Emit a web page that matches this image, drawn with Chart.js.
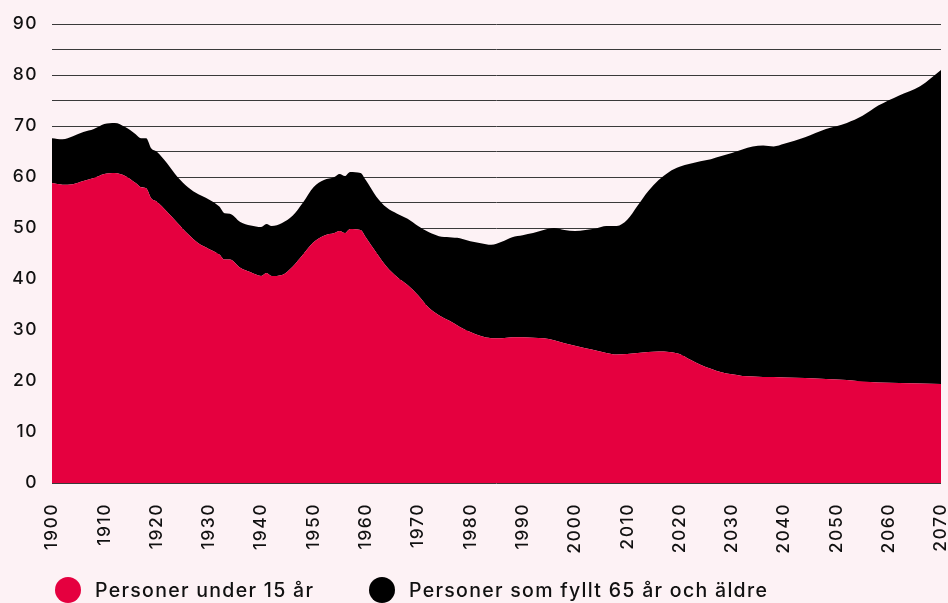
<!DOCTYPE html>
<html lang="sv">
<head>
<meta charset="utf-8">
<script src="https://cdn.jsdelivr.net/npm/chart.js@4/dist/chart.umd.min.js"></script>
<style>
  html, body { margin: 0; padding: 0; background: #fdf2f5; }
  .wrap { position: relative; width: 948px; height: 603px; overflow: hidden; }
  canvas { position: absolute; left: 0; top: 0; }
  .legend { position: absolute; top: 577px; left: 0; font-family: Inter, "Noto Sans", sans-serif; font-size: 19.5px; font-weight: 500; letter-spacing: 1.3px; color: #111; }
  .legend span.item { position: absolute; white-space: nowrap; line-height: 26px; }
  .legend i { position: absolute; top: 0; width: 26px; height: 26px; border-radius: 50%; }
</style>
</head>
<body>
<div class="wrap">
  <canvas id="popChart" width="948" height="603"></canvas>
  <div class="legend" id="legend"></div>
</div>
<script>
// Befolkning per åldersgrupp, procent av befolkningen 15-64 år (avläst)

const years = [1900, 1902, 1904, 1906, 1908, 1910, 1912, 1914, 1916, 1917, 1918, 1919, 1920,
  1922, 1924, 1926, 1928, 1930, 1932, 1933, 1934, 1936, 1938, 1940, 1941, 1942, 1944, 1946,
  1948, 1950, 1952, 1954, 1955, 1956, 1957, 1959, 1960, 1962, 1964, 1966, 1968, 1970, 1972,
  1974, 1976, 1978, 1980, 1982, 1984, 1986, 1988, 1990, 1992, 1994, 1996, 1998, 2000, 2002,
  2004, 2006, 2008, 2010, 2012, 2014, 2016, 2018, 2020, 2022, 2024, 2026, 2028, 2030, 2032,
  2034, 2036, 2038, 2040, 2044, 2048, 2052, 2055, 2058, 2062, 2066, 2070];

const under15 = [58.8, 58.5, 58.6, 59.2, 59.8, 60.6, 60.8, 60.2, 58.8, 58.0, 57.8, 55.8, 55.2,
  53.2, 51.0, 48.8, 47.0, 45.9, 44.8, 43.8, 43.8, 42.2, 41.3, 40.6, 41.2, 40.6, 40.8, 42.4,
  44.8, 47.2, 48.5, 49.0, 49.4, 49.0, 49.8, 49.6, 48.2, 45.2, 42.4, 40.4, 38.8, 36.8, 34.4,
  32.9, 31.8, 30.6, 29.6, 28.8, 28.4, 28.4, 28.6, 28.6, 28.5, 28.4, 28.0, 27.4, 26.9, 26.4,
  26.0, 25.5, 25.2, 25.3, 25.5, 25.7, 25.8, 25.7, 25.3, 24.2, 23.2, 22.4, 21.7, 21.3, 21.0,
  20.9, 20.8, 20.8, 20.7, 20.6, 20.4, 20.2, 19.9, 19.7, 19.6, 19.5, 19.4];

const over65 = [8.8, 8.9, 9.4, 9.6, 9.6, 9.8, 9.8, 9.6, 9.6, 9.6, 9.8, 9.8, 9.8,
  9.5, 9.0, 9.2, 9.6, 9.7, 9.4, 9.1, 9.0, 9.0, 9.2, 9.6, 9.6, 9.8, 10.2, 10.0,
  10.2, 10.8, 10.9, 11.0, 11.2, 11.2, 11.2, 11.2, 11.2, 11.0, 11.6, 12.4, 13.0, 13.6, 14.8,
  15.5, 16.4, 17.4, 17.8, 18.2, 18.3, 18.9, 19.6, 20.0, 20.5, 21.2, 22.0, 22.2, 22.5, 23.2,
  23.9, 24.9, 25.2, 26.3, 28.9, 31.5, 33.6, 35.3, 36.7, 38.4, 39.9, 41.1, 42.4, 43.4, 44.4,
  45.1, 45.4, 45.2, 45.8, 47.2, 49.0, 50.4, 52.1, 54.3, 56.4, 58.3, 61.6];

const seriesNames = ["Personer under 15 år", "Personer som fyllt 65 år och äldre"];
const seriesColors = ["#e5003f", "#000000"];

const yTicks = [0, 10, 20, 30, 40, 50, 60, 70, 80, 90];

const font = { family: "Inter, 'Noto Sans', sans-serif", size: 17.5, weight: 500 };

const toPoints = (vals) => vals.map((v, i) => ({ x: years[i], y: v }));

// bredare siffror som i originalet
const spacingPlugin = {
  id: 'letterSpacing',
  beforeDraw(chart) {
    chart.ctx.letterSpacing = '1.5px';
  }
};

new Chart(document.getElementById("popChart"), {
  type: 'line',
  data: {
    datasets: [
      {
        label: seriesNames[0],
        data: toPoints(under15),
        backgroundColor: seriesColors[0],
        borderWidth: 0,
        pointRadius: 0,
        fill: 'origin',
        cubicInterpolationMode: 'monotone'
      },
      {
        label: seriesNames[1],
        data: toPoints(over65),
        backgroundColor: seriesColors[1],
        borderWidth: 0,
        pointRadius: 0,
        fill: '-1',
        cubicInterpolationMode: 'monotone'
      }
    ]
  },
  options: {
    responsive: false,
    animation: false,
    layout: { padding: { top: 24, right: 7, bottom: 50, left: 0 } },
    plugins: {
      legend: { display: false },
      tooltip: { enabled: false }
    },
    scales: {
      x: {
        type: 'linear',
        min: 1900,
        max: 2070,
        grid: { display: false },
        border: { display: false },
        ticks: {
          stepSize: 10,
          autoSkip: false,
          minRotation: 90,
          maxRotation: 90,
          padding: 12,
          color: '#111',
          font: font,
          callback: (v) => String(v)
        },
        afterFit: (scale) => {
          scale.height = 70;
          scale.paddingLeft = 0;
          scale.paddingRight = 0;
        }
      },
      y: {
        stacked: true,
        min: 0,
        max: 90,
        grid: { color: '#3a3a3a', lineWidth: 1, drawTicks: false },
        border: { display: false },
        ticks: {
          stepSize: 5,
          padding: 14,
          color: '#111',
          font: font,
          callback: (v) => yTicks.includes(v) ? String(v) : ''
        },
        afterFit: (scale) => {
          scale.width = 52;
          scale.paddingTop = 0;
          scale.paddingBottom = 0;
        }
      }
    }
  },
  plugins: [spacingPlugin]
});

// förklaring under diagrammet
const legend = document.getElementById("legend");
const legendX = [55, 369];
seriesNames.forEach((name, i) => {
  const item = document.createElement("span");
  item.className = "item";
  item.style.left = legendX[i] + "px";
  item.innerHTML = `<i style="left:0;background:${seriesColors[i]}"></i><span style="position:absolute;left:40px">${name}</span>`;
  legend.appendChild(item);
});
</script>
</body>
</html>
